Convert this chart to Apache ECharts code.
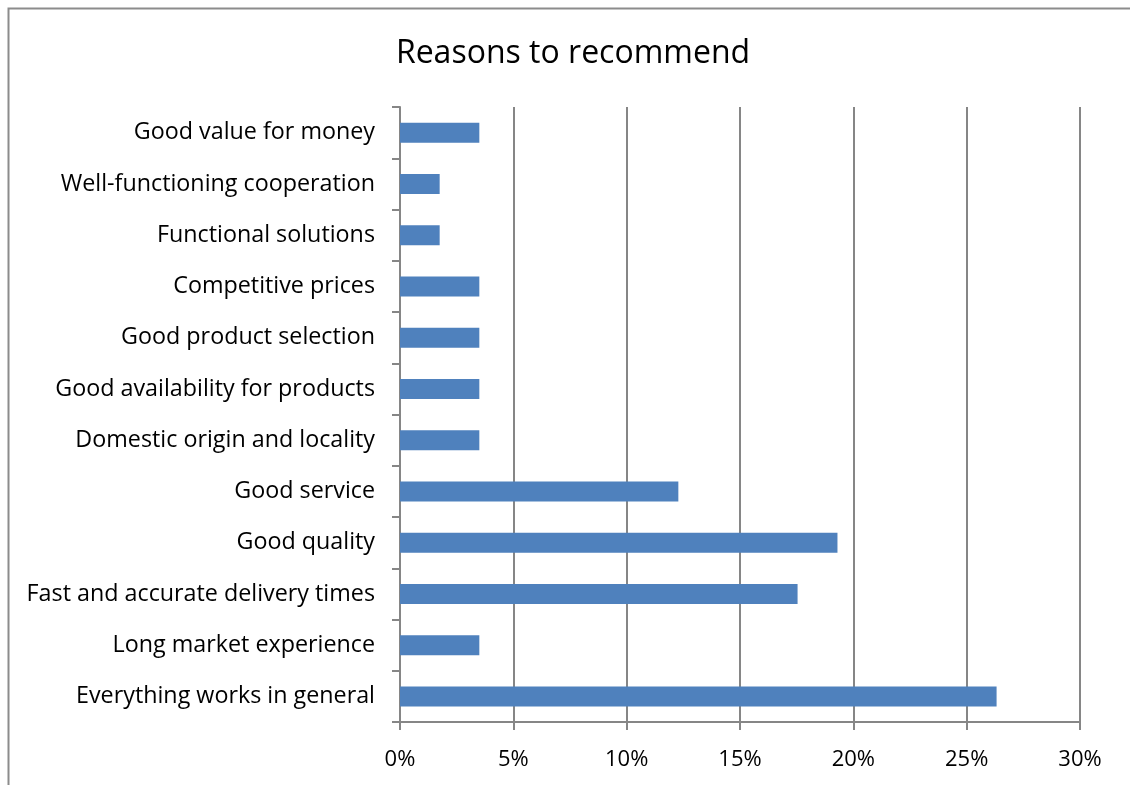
<!DOCTYPE html>
<html>
<head>
<meta charset="utf-8">
<script src="https://cdn.jsdelivr.net/npm/echarts@6/dist/echarts.min.js"></script>
<style>
html, body { margin: 0; padding: 0; background: #fff; }
#main { width: 1130px; height: 785px; }
</style>
</head>
<body>
<div id="main"></div>
<script>
// reasons, top to bottom as in the picture
var reasons = [
    'Good value for money',
    'Well-functioning cooperation',
    'Functional solutions',
    'Competitive prices',
    'Good product selection',
    'Good availability for products',
    'Domestic origin and locality',
    'Good service',
    'Good quality',
    'Fast and accurate delivery times',
    'Long market experience',
    'Everything works in general'
];
// share of answers, %
var shares = [3.5, 1.75, 1.75, 3.5, 3.5, 3.5, 3.5, 12.28, 19.3, 17.54, 3.5, 26.32];

var myChart = echarts.init(document.getElementById('main'));
var option = {
    animation: false,
    textStyle: { fontFamily: 'Open Sans' },
    title: {
        text: 'Reasons to recommend',
        left: 568,
        top: 33,
        textAlign: 'center',
        textStyle: { fontFamily: 'Open Sans', fontSize: 32, fontWeight: 'normal', color: '#000' }
    },
    graphic: [{
        type: 'rect',
        shape: { x: 8.5, y: 8.5, width: 1300, height: 1000 },
        style: { fill: 'none', stroke: '#8c8c8c', lineWidth: 2 },
        silent: true
    }],
    grid: { left: 400, right: 50, top: 107, bottom: 63 },
    xAxis: {
        type: 'value',
        min: 0,
        max: 30,
        interval: 5,
        axisLine: { show: true, lineStyle: { color: '#868686', width: 2 } },
        axisTick: { show: true, length: 8, lineStyle: { color: '#868686', width: 2 } },
        splitLine: { show: true, lineStyle: { color: '#868686', width: 2 } },
        axisLabel: { formatter: '{value}%', fontSize: 22, color: '#000', margin: 27 }
    },
    yAxis: {
        type: 'category',
        inverse: true,
        data: reasons,
        axisLine: { show: true, lineStyle: { color: '#868686', width: 2 } },
        axisTick: { show: true, length: 8, lineStyle: { color: '#868686', width: 2 } },
        axisLabel: { fontSize: 23.3, color: '#000', margin: 25 }
    },
    series: [{
        type: 'bar',
        data: shares,
        barWidth: 20,
        itemStyle: { color: '#4f81bd' }
    }]
};
myChart.setOption(option);
</script>
</body>
</html>
